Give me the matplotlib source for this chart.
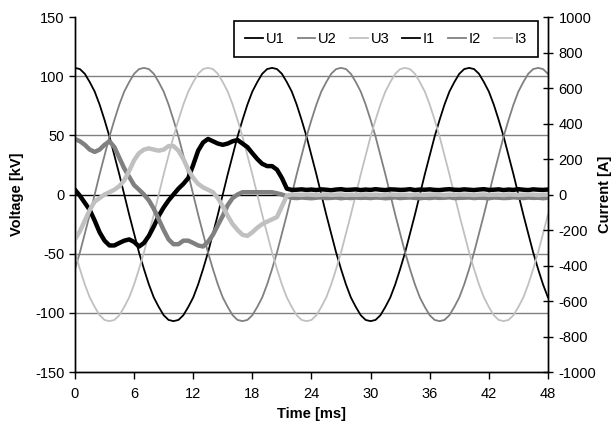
import numpy as np
import matplotlib
matplotlib.use("Agg")
import matplotlib.pyplot as plt
from matplotlib.lines import Line2D

plt.rcParams['font.family'] = ['Liberation Sans', 'DejaVu Sans']
plt.rcParams['font.size'] = 10.5
plt.rcParams['axes.unicode_minus'] = False

# time axis [ms], one reading every 0.5 ms
t = np.arange(0, 48.5, 0.5)

# phase voltages [kV]
u1 = [107, 106, 102, 95, 87, 76, 63, 49, 33, 17, 0, -17, -33, -49, -63, -76, -87, -95, -102, -106,
      -107, -106, -102, -95, -87, -76, -63, -49, -33, -17, 0, 17, 33, 49, 63, 76, 87, 95, 102, 106,
      107, 106, 102, 95, 87, 76, 63, 49, 33, 17, 0, -17, -33, -49, -63, -76, -87, -95, -102, -106,
      -107, -106, -102, -95, -87, -76, -63, -49, -33, -17, 0, 17, 33, 49, 63, 76, 87, 95, 102, 106,
      107, 106, 102, 95, 87, 76, 63, 49, 33, 17, 0, -17, -33, -49, -63, -76, -87]
u2 = [-63, -49, -33, -17, 0, 17, 33, 49, 63, 76, 87, 95, 102, 106, 107, 106, 102, 95, 87, 76,
      63, 49, 33, 17, 0, -17, -33, -49, -63, -76, -87, -95, -102, -106, -107, -106, -102, -95, -87, -76,
      -63, -49, -33, -17, 0, 17, 33, 49, 63, 76, 87, 95, 102, 106, 107, 106, 102, 95, 87, 76,
      63, 49, 33, 17, 0, -17, -33, -49, -63, -76, -87, -95, -102, -106, -107, -106, -102, -95, -87, -76,
      -63, -49, -33, -17, 0, 17, 33, 49, 63, 76, 87, 95, 102, 106, 107, 106, 102]
u3 = [-49, -63, -76, -87, -95, -102, -106, -107, -106, -102, -95, -87, -76, -63, -49, -33, -17, 0, 17, 33,
      49, 63, 76, 87, 95, 102, 106, 107, 106, 102, 95, 87, 76, 63, 49, 33, 17, 0, -17, -33,
      -49, -63, -76, -87, -95, -102, -106, -107, -106, -102, -95, -87, -76, -63, -49, -33, -17, 0, 17, 33,
      49, 63, 76, 87, 95, 102, 106, 107, 106, 102, 95, 87, 76, 63, 49, 33, 17, 0, -17, -33,
      -49, -63, -76, -87, -95, -102, -106, -107, -106, -102, -95, -87, -76, -63, -49, -33, -17]

# phase currents [A]
i1 = [27, -7, -47, -87, -147, -213, -260, -287, -287, -273, -260, -253, -267, -293, -273, -233, -180, -120, -73, -33,
      0, 33, 60, 93, 167, 247, 293, 313, 300, 287, 280, 287, 300, 307, 287, 267, 233, 200, 173, 160,
      160, 140, 93, 33, 26, 27, 29, 26, 28, 25, 29, 27, 24, 28, 30, 26, 27, 29, 25, 28,
      26, 30, 27, 25, 29, 28, 26, 27, 30, 25, 28, 27, 29, 26, 25, 28, 30, 27, 26, 29,
      27, 25, 28, 30, 26, 27, 29, 25, 28, 26, 30, 27, 25, 29, 27, 26, 28]
i2 = [313, 300, 280, 253, 240, 253, 280, 300, 267, 207, 147, 100, 53, 27, 0, -33, -80, -140, -200, -253,
      -280, -280, -260, -260, -273, -287, -293, -267, -227, -173, -120, -60, -20, 0, 13, 13, 13, 13, 13, 13,
      13, 7, 0, -10, -18, -20, -17, -19, -21, -18, -16, -20, -19, -17, -21, -18, -20, -17, -19, -18,
      -20, -17, -18, -21, -19, -16, -20, -18, -17, -19, -21, -18, -20, -17, -19, -18, -16, -20, -19, -18,
      -17, -20, -18, -19, -21, -17, -18, -20, -19, -16, -18, -20, -17, -19, -18, -21, -18]
i3 = [-253, -207, -147, -87, -40, -20, 0, 13, 27, 47, 80, 133, 193, 233, 253, 260, 253, 247, 253, 273,
      273, 247, 200, 140, 93, 60, 40, 27, 13, -20, -67, -120, -167, -200, -227, -233, -213, -187, -167, -153,
      -140, -127, -67, -7, 0, -1, -2, 0, -1, -3, -1, 0, -2, -1, 0, -3, -1, -2, -1, 0,
      -2, -1, -3, -1, 0, -2, -1, -1, -3, 0, -1, -2, -1, 0, -1, -3, -1, -2, 0, -1,
      -1, -3, -1, 0, -2, -1, -1, -3, 0, -1, -2, -1, 0, -1, -3, -1, -1]

names = ["U1", "U2", "U3", "I1", "I2", "I3"]
colors = ["#000000", "#808080", "#c0c0c0"]

fig = plt.figure(figsize=(6.13, 4.24), dpi=100)
ax = fig.add_axes([0.1223, 0.1226, 0.7716, 0.8373])
ax2 = ax.twinx()

for y in [100, 50, -50, -100]:
    ax.axhline(y, color="#808080", lw=1.0, zorder=0)
ax.axhline(0, color="black", lw=1.0, zorder=0)

for vals, c in zip([u1, u2, u3], colors):
    ax.plot(t, vals, color=c, lw=1.3)
for vals, c in zip([i1, i2, i3], colors):
    ax2.plot(t, vals, color=c, lw=3.2)

ax.set_xlim(0, 48)
ax.set_ylim(-150, 150)
ax2.set_ylim(-1000, 1000)
ax.set_xticks(range(0, 49, 6))
ax.set_yticks(range(-150, 151, 50))
ax2.set_yticks(range(-1000, 1001, 200))

ax.spines['top'].set_visible(False)
ax2.spines['top'].set_visible(False)
for sp in ['left', 'bottom', 'right']:
    ax2.spines[sp].set_linewidth(1.0)
    ax.spines[sp].set_linewidth(1.0)

ax.tick_params(axis='y', direction='out', length=4, width=1)
ax.tick_params(axis='x', direction='out', length=5, width=1, pad=6)
ax2.tick_params(axis='y', direction='inout', length=7, width=1, pad=4)

ax.set_xlabel("Time [ms]", fontweight="bold", labelpad=4)
ax.set_ylabel("Voltage [kV]", fontweight="bold")
ax2.set_ylabel("Current [A]", fontweight="bold")
ax.yaxis.set_label_coords(-0.108, 0.5)
ax2.yaxis.set_label_coords(1.106, 0.5)

handles = [Line2D([], [], color=c, lw=1.3) for c in colors + colors]
leg = ax2.legend(handles, names, ncol=6, loc="upper right", bbox_to_anchor=(0.979, 0.989),
                 frameon=True, fancybox=False, framealpha=1, edgecolor="black",
                 handlelength=1.21, handletextpad=0.2, columnspacing=0.9, borderpad=0.75,
                 borderaxespad=0)
leg.get_frame().set_linewidth(1.2)

fig.savefig("out.png", dpi=100)
